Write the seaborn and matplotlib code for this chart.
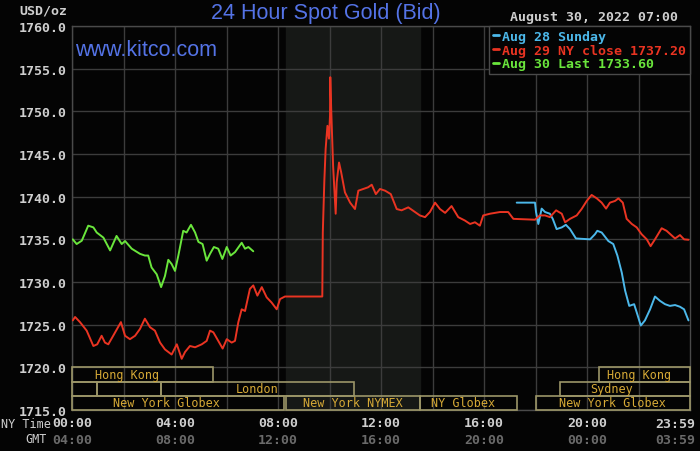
import numpy as np
import pandas as pd
import seaborn as sns
import matplotlib.pyplot as plt
from matplotlib.patches import Rectangle

# ------------------ Data (NY time in hours) ------------------
aug30_hours = [0.03, 0.18, 0.38, 0.63, 0.83, 0.96, 1.22, 1.48, 1.73, 1.93, 2.06, 2.32,
               2.64, 2.83, 2.96, 3.09, 3.29, 3.46, 3.61, 3.74, 3.87, 4.00, 4.13, 4.32,
               4.45, 4.62, 4.78, 4.91, 5.07, 5.23, 5.36, 5.51, 5.68, 5.84, 6.01, 6.16,
               6.33, 6.59, 6.72, 6.85, 7.04]
aug30_price = [1735.0, 1734.45, 1734.84, 1736.6, 1736.4, 1735.8, 1735.2, 1733.7, 1735.4,
               1734.45, 1734.8, 1733.9, 1733.3, 1733.1, 1733.1, 1731.7, 1730.9, 1729.4,
               1730.7, 1732.6, 1732.1, 1731.3, 1733.1, 1736.0, 1735.8, 1736.7, 1735.8,
               1734.7, 1734.45, 1732.5, 1733.3, 1734.1, 1733.9, 1732.7, 1734.1, 1733.1,
               1733.5, 1734.6, 1733.9, 1734.1, 1733.6]

aug29_hours = [0.03, 0.12, 0.31, 0.57, 0.83, 0.98, 1.15, 1.28, 1.41, 1.60, 1.90, 2.06,
               2.25, 2.45, 2.64, 2.83, 3.03, 3.22, 3.42, 3.61, 3.87, 4.07, 4.26, 4.39,
               4.58, 4.78, 5.04, 5.23, 5.36, 5.49, 5.68, 5.85, 6.01, 6.20, 6.33, 6.46,
               6.59, 6.72, 6.91, 7.04, 7.20, 7.37, 7.56, 7.75, 7.95, 8.08, 8.27, 9.72,
               9.74, 9.80, 9.85, 9.92, 9.98, 10.02, 10.03, 10.07, 10.14, 10.24, 10.28,
               10.37, 10.45, 10.60, 10.80, 10.99, 11.12, 11.31, 11.50, 11.64, 11.80,
               11.96, 12.16, 12.38, 12.61, 12.80, 13.06, 13.32, 13.51, 13.71, 13.90,
               14.10, 14.29, 14.49, 14.74, 15.00, 15.26, 15.46, 15.65, 15.84, 15.97,
               16.23, 16.62, 16.94, 17.14, 17.98, 18.17, 18.37, 18.56, 18.80, 19.02,
               19.15, 19.34, 19.60, 19.79, 19.99, 20.18, 20.38, 20.57, 20.74, 20.89,
               21.09, 21.22, 21.39, 21.54, 21.74, 21.93, 22.12, 22.32, 22.47, 22.64,
               22.90, 23.09, 23.42, 23.61, 23.77, 23.94]
aug29_price = [1725.5, 1725.9, 1725.3, 1724.3, 1722.5, 1722.7, 1723.7, 1722.9, 1722.7,
               1723.7, 1725.3, 1723.7, 1723.3, 1723.7, 1724.5, 1725.7, 1724.7, 1724.3,
               1722.9, 1722.1, 1721.5, 1722.7, 1721.0, 1721.8, 1722.5, 1722.35, 1722.7,
               1723.1, 1724.3, 1724.1, 1723.1, 1722.2, 1723.3, 1722.9, 1723.1, 1725.3,
               1726.8, 1726.6, 1729.2, 1729.6, 1728.4, 1729.4, 1728.2, 1727.6, 1726.8,
               1728.0, 1728.3, 1728.3, 1735.8, 1741.9, 1745.6, 1748.3, 1746.8, 1749.5,
               1754.0, 1749.9, 1743.6, 1738.0, 1741.7, 1744.0, 1742.9, 1740.5, 1739.3,
               1738.55, 1740.7, 1740.9, 1741.1, 1741.4, 1740.3, 1740.9, 1740.7, 1740.3,
               1738.55, 1738.4, 1738.75, 1738.2, 1737.8, 1737.6, 1738.2, 1739.3, 1738.55,
               1738.1, 1738.9, 1737.6, 1737.2, 1736.8, 1737.0, 1736.6, 1737.8, 1738.0,
               1738.2, 1738.2, 1737.4, 1737.3, 1737.8, 1737.8, 1737.6, 1738.4, 1738.0,
               1737.0, 1737.4, 1737.8, 1738.55, 1739.5, 1740.2, 1739.8, 1739.3, 1738.6,
               1739.3, 1739.5, 1739.8, 1739.3, 1737.4, 1736.8, 1736.4, 1735.6, 1735.0,
               1734.2, 1735.0, 1736.3, 1736.0, 1735.1, 1735.5, 1735.0, 1734.95]

aug28_hours = [17.27, 17.98, 18.02, 18.11, 18.24, 18.37, 18.56, 18.67, 18.82, 19.02,
               19.18, 19.34, 19.57, 20.12, 20.31, 20.40, 20.57, 20.83, 21.02, 21.18,
               21.35, 21.48, 21.64, 21.83, 21.93, 22.09, 22.25, 22.45, 22.64, 22.83,
               23.03, 23.22, 23.42, 23.61, 23.77, 23.94]
aug28_price = [1739.3, 1739.3, 1738.2, 1736.8, 1738.6, 1738.2, 1738.0, 1737.4, 1736.2,
               1736.4, 1736.7, 1736.2, 1735.1, 1735.0, 1735.6, 1736.0, 1735.8, 1734.8,
               1734.45, 1733.1, 1731.1, 1729.0, 1727.2, 1727.4, 1726.45, 1724.9, 1725.5,
               1726.8, 1728.3, 1727.8, 1727.4, 1727.2, 1727.3, 1727.1, 1726.8, 1725.5]

series_labels = ["Aug 28 Sunday", "Aug 29 NY close 1737.20", "Aug 30 Last 1733.60"]

ny_ticks = [0, 4, 8, 12, 16, 20]
ny_labels = ["00:00", "04:00", "08:00", "12:00", "16:00", "20:00"]
gmt_labels = ["04:00", "08:00", "12:00", "16:00", "20:00", "00:00"]

# trading sessions: label, start hour, end hour, row (0 = top), label centre
session_names = ["Hong Kong", "", "", "London", "Sydney", "Hong Kong",
                 "New York Globex", "New York NYMEX", "NY Globex", "New York Globex"]
session_start = [0, 0, 0.97, 3.45, 18.95, 20.47, 0, 8.33, 13.5, 18.0]
session_end = [5.48, 0.97, 3.45, 10.95, 24, 24, 8.25, 13.5, 17.3, 24]
session_row = [0, 1, 1, 1, 1, 0, 2, 2, 2, 2]
session_text_x = [2.14, 0, 0, 7.17, 20.97, 22.02, 3.65, 10.9, 15.2, 20.97]

# ------------------ Style ------------------
sns.set_style("dark", rc={"axes.facecolor": "#040404", "figure.facecolor": "#040404",
                          "axes.edgecolor": "#4a4a4a", "grid.color": "#3c3c3c"})
plt.rcParams["font.family"] = ["DejaVu Sans Mono"]

mono = "DejaVu Sans Mono"
sans = "Liberation Sans"
red = "#ea3422"
green = "#6ae63c"
blue = "#4cb8ea"
box_edge = "#9c9668"
box_text = "#d6a936"
light = "#cfcfcf"
dim = "#6a6a6a"

fig = plt.figure(figsize=(7, 4.52), dpi=100)
ax = fig.add_axes([72 / 700, 1 - 411 / 452, 618 / 700, 384 / 452])

# NYMEX session shading
ax.axvspan(8.33, 13.5, color="#161816", zorder=0)

df28 = pd.DataFrame({"hour": aug28_hours, "price": aug28_price})
df29 = pd.DataFrame({"hour": aug29_hours, "price": aug29_price})
df30 = pd.DataFrame({"hour": aug30_hours, "price": aug30_price})

sns.lineplot(data=df28, x="hour", y="price", color=blue, lw=1.4, ax=ax,
             label=series_labels[0], zorder=3)
sns.lineplot(data=df29, x="hour", y="price", color=red, lw=1.4, ax=ax,
             label=series_labels[1], zorder=3)
sns.lineplot(data=df30, x="hour", y="price", color=green, lw=1.4, ax=ax,
             label=series_labels[2], zorder=3)

ax.set_xlim(0, 24)
ax.set_ylim(1715, 1760)
ax.set_xlabel("")
ax.set_ylabel("")

ax.set_yticks(np.arange(1715, 1761, 5))
ax.set_yticklabels([f"{v:.1f}" for v in np.arange(1715, 1761, 5)])
ax.set_xticks(np.arange(0, 24, 2))
ax.set_xticklabels([ny_labels[ny_ticks.index(h)] if h in ny_ticks else "" for h in range(0, 24, 2)])
ax.tick_params(axis="both", length=0, colors=light, labelsize=9.5)
ax.tick_params(axis="y", pad=4)
ax.tick_params(axis="x", pad=4)
for lab in ax.get_xticklabels() + ax.get_yticklabels():
    lab.set_fontweight("bold")
ax.grid(True, lw=1.0)
for s in ax.spines.values():
    s.set_linewidth(1.0)

# GMT row and end-of-day labels
trans = ax.get_xaxis_transform()
for h, g in zip(ny_ticks, gmt_labels):
    ax.text(h, -0.076, g, transform=trans, ha="center", va="center",
            color=dim, fontsize=9.5, fontweight="bold")
ax.text(24.2, -0.036, "23:59", transform=trans, ha="right", va="center",
        color=light, fontsize=9.5, fontweight="bold")
ax.text(24.2, -0.076, "03:59", transform=trans, ha="right", va="center",
        color=dim, fontsize=9.5, fontweight="bold")
fig.text(1 / 700, 1 - 425 / 452, "NY Time", ha="left", va="center",
         color=light, fontsize=8.5)
fig.text(47 / 700, 1 - 440 / 452, "GMT", ha="right", va="center",
         color=light, fontsize=8.5)

# session boxes
row_h = 5 / 3
for name, s0, s1, row, tx in zip(session_names, session_start, session_end,
                                  session_row, session_text_x):
    y0 = 1720 - (row + 1) * row_h
    ax.add_patch(Rectangle((s0, y0), s1 - s0, row_h, fill=False, ec=box_edge,
                           lw=1.2, zorder=4, clip_on=False))
    if name:
        ax.text(tx, y0 + row_h / 2, name, ha="center", va="center",
                color=box_text, fontsize=8.5, zorder=5)

# legend
leg = ax.legend(loc="upper right", borderaxespad=0, fancybox=False, framealpha=1,
                facecolor="#040404", edgecolor="#4a4a4a", handlelength=0.45,
                handletextpad=0.25, labelspacing=0.05, borderpad=0.3,
                prop={"family": mono, "size": 9.5, "weight": "bold"},
                labelcolor="linecolor")
leg.get_frame().set_linewidth(1.0)
for ln in leg.get_lines():
    ln.set_linewidth(2)

# titles and annotations
fig.text(326 / 700, 1 - 14 / 452, "24 Hour Spot Gold (Bid)", ha="center", va="center",
         color="#5473e6", fontsize=15.5, family=sans)
ax.text(75 / 700, 1 - 50 / 452, "www.kitco.com", transform=fig.transFigure,
        ha="left", va="center", color="#5473e6", fontsize=15.5, family=sans, zorder=6)
fig.text(67 / 700, 1 - 11 / 452, "USD/oz", ha="right", va="center",
         color=light, fontsize=9.5, fontweight="bold")
fig.text(678 / 700, 1 - 18 / 452, "August 30, 2022 07:00", ha="right", va="center",
         color=light, fontsize=9.5, fontweight="bold")

fig.savefig("out.png", dpi=100, facecolor=fig.get_facecolor())
